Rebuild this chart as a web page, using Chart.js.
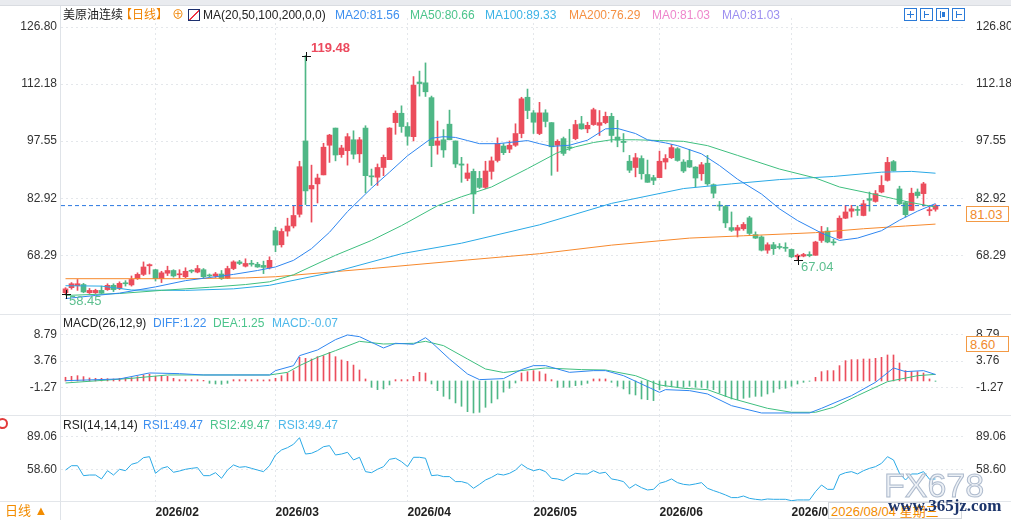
<!DOCTYPE html>
<html>
<head>
<meta charset="utf-8">
<script src="https://cdn.jsdelivr.net/npm/chart.js@4.4.1/dist/chart.umd.min.js"></script>
<style>
body{margin:0;background:#fff;}
#wrap{position:relative;width:1011px;height:520px;overflow:hidden;background:#fff;
  font-family:"Liberation Sans","Noto Sans CJK SC",sans-serif;font-size:12px;color:#222;}
.pane{position:absolute;left:0;}
.t{position:absolute;white-space:nowrap;line-height:14px;font-size:12px;}
.sep{position:absolute;left:0;width:1011px;height:1px;background:#e3e6ea;}
.cross{position:absolute;width:9px;height:9px;}
.cross:before{content:"";position:absolute;left:0;top:4px;width:9px;height:1px;background:#111;}
.cross:after{content:"";position:absolute;left:4px;top:0;width:1px;height:9px;background:#111;}
.box{position:absolute;left:966px;width:43px;height:16px;border:1px solid #f39a45;background:#fff;
  color:#f08a2a;font-size:13px;line-height:16px;padding-left:3px;box-sizing:border-box;}
.ico{position:absolute;top:8px;width:13px;height:13px;border:1px solid #2a7ad8;box-sizing:border-box;}
.ico i{position:absolute;background:#2a7ad8;}
</style>
</head>
<body>
<div id="wrap">
  <div style="position:absolute;left:0;top:0;width:1011px;height:5px;background:#e9ebef;border-bottom:1px solid #d9dce1"></div>

  <div class="pane" style="top:0;width:1011px;height:314px"><canvas id="cMain" width="1011" height="314"></canvas></div>
  <div class="pane" style="top:314px;width:1011px;height:101px"><canvas id="cMacd" width="1011" height="101"></canvas></div>
  <div class="pane" style="top:415px;width:1011px;height:105px"><canvas id="cRsi" width="1011" height="105"></canvas></div>

  <div class="sep" style="top:314px"></div>
  <div class="sep" style="top:415px"></div>
  <div class="sep" style="top:501px"></div>
  <div style="position:absolute;left:60px;top:6px;width:1px;height:514px;background:#dfe3e8"></div>

  <!-- main header -->
  <div class="t" style="left:63px;top:8px">美原油连续</div>
  <div class="t" style="left:120px;top:8px;color:#f08300">【日线】</div>
  <div class="t" style="left:172px;top:8px;color:#f08300">⊕</div>
  <div style="position:absolute;left:188px;top:9px;width:12px;height:12px;border:1px solid #1c2f6e;box-sizing:border-box;background:linear-gradient(135deg,#fff 45%,#e34 46%,#e34 55%,#fff 56%)"></div>
  <div class="t" style="left:203px;top:8px">MA(20,50,100,200,0,0)</div>
  <div class="t" style="left:335px;top:8px;color:#3d8fef">MA20:81.56</div>
  <div class="t" style="left:410px;top:8px;color:#4cc48c">MA50:80.66</div>
  <div class="t" style="left:485px;top:8px;color:#3db3e6">MA100:89.33</div>
  <div class="t" style="left:569px;top:8px;color:#f59042">MA200:76.29</div>
  <div class="t" style="left:652px;top:8px;color:#ee86cc">MA0:81.03</div>
  <div class="t" style="left:722px;top:8px;color:#9d8ff0">MA0:81.03</div>

  <div class="ico" style="left:904px"><i style="left:5px;top:2px;width:1px;height:7px"></i><i style="left:2px;top:5px;width:7px;height:1px"></i></div>
  <div class="ico" style="left:920px"><i style="left:3px;top:2px;width:1px;height:7px"></i><i style="left:3px;top:5px;width:5px;height:1px"></i></div>
  <div class="ico" style="left:936px"><i style="left:3px;top:2px;width:1px;height:7px"></i><i style="left:5px;top:3px;width:3px;height:5px"></i></div>
  <div class="ico" style="left:952px"><i style="left:3px;top:2px;width:1px;height:7px"></i><i style="left:4px;top:5px;width:5px;height:1px"></i></div>

  <!-- macd header -->
  <div class="t" style="left:63px;top:316px">MACD(26,12,9)</div>
  <div class="t" style="left:153px;top:316px;color:#3d8fef">DIFF:1.22</div>
  <div class="t" style="left:213px;top:316px;color:#4cc48c">DEA:1.25</div>
  <div class="t" style="left:272px;top:316px;color:#4db8ea">MACD:-0.07</div>

  <!-- rsi header -->
  <div class="t" style="left:63px;top:418px">RSI(14,14,14)</div>
  <div class="t" style="left:143px;top:418px;color:#3d8fef">RSI1:49.47</div>
  <div class="t" style="left:210px;top:418px;color:#4cc48c">RSI2:49.47</div>
  <div class="t" style="left:278px;top:418px;color:#4db8ea">RSI3:49.47</div>
  <div style="position:absolute;left:-3px;top:418px;width:7px;height:7px;border:2px solid #e23a3a;border-radius:50%"></div>

  <div class="t" style="left:5px;top:504px;font-size:13px;color:#f28c00">日线 ▲</div>

  <div id="priceBox" class="box">81.03</div>
  <div id="macdBox" class="box">8.60</div>

  <div class="t" style="left:828px;top:502px;width:134px;height:17px;border:1px solid #d3d7dc;background:#fff;color:#f28c00;font-size:13px;line-height:17px;padding-left:2px;box-sizing:border-box">2026/08/04 星期三</div>
  <div class="t" style="left:884px;top:467px;font-size:34px;line-height:36px;letter-spacing:0px;color:rgba(232,237,244,0.8);-webkit-text-stroke:1px rgba(150,166,190,0.75)">FX678</div>
  <div class="t" style="left:888px;top:497px;font-family:'Liberation Serif',serif;font-weight:bold;font-size:17px;line-height:18px;color:#1d356b">www.365jz.com</div>
</div>

<script>
// ---- price data (daily candles) ----
const openP = [
  58.7,60.0,60.5,60.8,58.7,58.7,59.3,59.5,60.6,59.8,
  61.2,60.7,62.3,63.4,65.6,64.6,62.3,63.7,64.4,63.3,
  62.8,64.4,64.0,64.6,63.2,63.0,63.5,62.4,64.9,66.6,
  65.5,66.1,66.0,65.7,65.1,74.6,71.0,74.5,75.8,78.8,
  97.6,85.3,86.6,88.9,96.5,100.9,94.1,95.1,97.9,94.3,
  100.9,88.6,88.3,90.8,92.8,102.3,104.7,101.3,98.7,112.7,
  112.5,108.7,96.5,97.9,101.9,97.6,91.7,88.0,89.8,88.0,
  85.7,89.8,92.6,96.3,95.5,96.5,99.5,108.8,104.8,99.5,
  104.8,102.3,96.5,98.2,96.0,98.2,102.0,100.7,101.8,101.6,
  102.3,103.9,98.6,97.5,92.4,90.8,93.1,89.0,88.2,88.2,
  92.2,93.3,95.6,92.2,92.6,90.9,89.2,91.9,86.4,81.0,
  80.8,75.4,74.7,75.1,77.9,73.6,73.0,69.6,71.0,70.5,
  70.2,69.8,67.9,68.1,68.5,68.3,72.1,74.5,71.6,72.7,
  77.8,79.6,79.9,78.5,82.8,82.1,84.5,87.5,92.3,85.3,
  81.8,79.8,84.5,84.1,79.7,80.1
];
const highP = [
  60.0,61.3,62.1,61.1,59.8,59.6,60.4,61.0,61.0,61.5,
  61.8,63.0,63.8,66.6,66.1,64.7,64.2,65.5,64.6,64.6,
  65.1,64.6,65.7,64.9,63.5,63.9,64.4,65.5,66.9,67.0,
  67.4,67.0,66.5,66.8,67.9,75.5,75.1,77.8,81.0,92.4,
  119.48,91.4,89.1,97.0,99.3,100.9,96.5,99.5,100.2,98.5,
  101.5,90.4,91.7,94.0,101.0,105.3,106.6,102.3,114.1,115.5,
  117.6,109.1,102.7,100.5,105.5,97.6,93.4,91.7,90.4,89.8,
  92.4,93.5,98.4,96.9,97.6,102.0,108.8,110.9,105.4,107.5,
  105.6,102.3,97.9,98.6,100.6,102.9,103.9,102.4,106.0,105.4,
  105.0,104.7,102.9,99.5,93.9,94.4,93.8,92.7,88.8,95.0,
  94.1,96.7,95.9,92.8,95.4,91.0,92.1,93.9,86.6,82.1,
  81.1,79.4,76.0,76.7,78.3,74.3,73.3,71.5,71.6,71.3,
  71.5,69.9,68.6,68.8,69.2,71.9,75.7,75.4,72.4,78.4,
  81.1,81.1,80.9,82.4,84.5,84.9,88.7,93.4,92.6,86.0,
  82.1,85.5,85.3,87.0,80.7,81.3
];
const lowP = [
  58.45,59.6,59.3,58.7,58.5,58.5,58.5,59.3,59.0,59.5,
  60.4,60.4,62.1,63.1,63.5,61.7,61.3,63.1,62.7,62.5,
  62.5,63.8,63.8,62.5,62.7,62.6,62.1,62.3,64.6,65.9,
  65.3,65.5,65.2,63.6,64.8,69.2,70.4,73.2,75.3,78.1,
  81.3,76.8,81.7,88.9,92.1,92.5,93.4,91.4,93.0,92.1,
  84.3,86.2,86.2,88.7,92.8,99.3,99.8,96.5,97.6,109.1,
  109.0,91.0,94.2,93.4,97.9,90.8,87.0,87.4,79.0,85.4,
  85.4,87.8,92.2,94.1,94.6,96.2,98.4,103.3,99.5,99.2,
  101.2,88.8,89.8,93.9,95.2,97.9,100.6,99.7,101.6,99.0,
  102.0,97.3,96.1,94.8,89.5,88.4,87.8,87.0,86.4,88.2,
  90.4,93.1,92.4,89.5,90.8,85.8,87.5,86.2,83.0,79.8,
  75.4,74.4,73.0,74.7,73.6,72.6,69.4,68.8,68.5,69.9,
  69.3,67.7,67.04,67.9,67.9,68.3,71.6,71.5,70.9,72.6,
  77.7,78.1,78.5,78.4,79.6,81.9,84.3,87.3,89.9,81.3,
  78.1,79.8,83.0,80.9,78.5,79.6
];
const closeP = [
  59.7,61.0,61.0,58.9,59.3,59.3,58.6,60.6,59.5,61.1,
  61.0,62.1,63.4,65.3,65.9,62.3,63.8,64.4,63.0,63.5,
  64.2,64.2,64.9,62.8,63.0,63.5,62.3,64.9,66.6,66.2,
  66.2,66.0,65.3,65.2,67.0,70.9,74.4,75.8,78.5,91.0,
  84.8,86.2,88.1,96.0,99.1,94.0,95.8,98.7,94.2,97.9,
  88.7,88.4,90.8,93.4,100.9,104.7,101.3,98.8,111.9,112.3,
  110.2,96.4,97.6,95.3,97.9,91.7,91.4,89.4,84.0,85.7,
  89.9,92.5,96.9,94.6,96.5,99.5,108.4,105.4,102.4,104.8,
  102.6,96.1,97.5,94.4,95.8,101.8,100.7,101.6,105.6,102.3,
  103.9,99.0,97.8,97.2,90.1,93.3,89.2,87.0,87.5,92.4,
  93.1,95.9,92.6,89.9,90.9,88.1,91.5,86.6,84.2,80.9,
  76.6,74.7,75.4,76.2,73.9,72.7,69.6,71.0,70.0,70.3,
  70.1,67.9,68.3,68.5,68.2,71.7,74.3,71.7,71.5,77.8,
  79.4,80.2,79.8,81.5,82.4,84.1,86.2,92.1,90.0,81.5,
  78.7,84.2,83.6,86.6,80.0,81.03
];
const lastPrice = 81.03;

// moving averages as drawn, read as [candle index, value]
const ma20 = [[0,57.2],[5,58.0],[9,58.6],[15,60.2],[20,61.8],[24,62.6],[28,63.4],[32,64.4],[35,65.3],[38,67.0],
  [41,70.0],[44,74.2],[47,79.5],[51,85.5],[54,89.6],[57,93.8],[61,98.3],[63,98.7],[65,98.5],[67,97.7],
  [69,96.9],[72,96.9],[74,97.2],[77,97.7],[79,96.9],[81,96.2],[84,96.5],[87,97.8],[90,100.7],[92,100.8],
  [95,99.5],[97,97.9],[100,97.1],[102,96.4],[106,94.3],[109,91.3],[112,87.8],[116,84.0],[119,80.2],[122,77.2],
  [126,74.0],[129,72.1],[132,72.7],[136,74.6],[139,77.3],[142,79.6],[145,81.56]];
const ma50 = [[0,58.0],[9,58.5],[16,59.3],[24,60.1],[30,60.8],[34,61.5],[38,63.3],[45,68.3],[51,72.1],[56,75.9],
  [62,81.0],[66,83.3],[71,85.8],[77,90.5],[82,94.6],[85,96.1],[88,97.2],[91,97.9],[95,97.9],[99,97.7],
  [103,97.5],[107,96.4],[112,93.9],[119,90.4],[125,88.1],[129,85.8],[134,84.2],[138,82.8],[141,81.8],[145,80.66]];
const ma100 = [[0,60.5],[6,60.4],[11,59.4],[20,59.3],[28,59.7],[34,60.6],[45,64.1],[56,68.7],[66,71.4],[79,76.1],
  [91,81.6],[103,85.4],[111,86.6],[119,87.7],[128,88.5],[136,89.6],[141,89.8],[145,89.33]];
const ma200 = [[0,62.3],[20,62.3],[30,62.5],[35,62.8],[51,64.9],[67,67.1],[79,68.7],[91,70.9],[104,72.7],[113,73.3],
  [125,74.1],[133,75.1],[140,75.8],[145,76.29]];

// MACD panel
const macdHist = [
  0.7,0.88,1.0,0.82,0.57,0.5,0.5,0.44,0.38,0.5,
  0.57,0.63,0.82,1.13,1.3,0.88,0.88,0.88,0.5,0.25,
  0.25,0.25,0.25,0.12,-0.44,-0.57,-0.63,-0.44,0.25,0.25,
  0.25,0.25,0.25,0.19,0.25,0.5,1.0,1.5,1.95,4.46,
  4.27,4.14,4.58,4.77,5.4,4.58,3.96,3.7,3.0,2.07,
  0.38,-1.19,-1.63,-1.5,-0.75,0.25,0.25,0.25,0.88,1.63,
  1.5,-0.57,-1.82,-2.89,-3.39,-4.14,-4.77,-5.78,-6.03,-5.9,
  -4.96,-4.14,-3.39,-2.1,-1.38,-0.38,1.5,1.76,1.95,1.76,
  1.32,0.25,-1.19,-1.19,-1.19,-0.88,-0.75,-0.44,0.38,0.38,
  0.38,-0.25,-1.0,-1.5,-2.45,-2.64,-3.39,-3.52,-3.7,-1.63,
  -1.0,-1.0,-1.19,-1.19,-1.0,-1.19,-1.19,-1.38,-1.63,-2.26,
  -2.89,-3.39,-3.52,-3.27,-3.08,-2.89,-2.89,-2.45,-2.14,-1.5,
  -1.38,-1.0,-0.57,-0.25,-0.06,0.69,1.76,1.95,1.95,2.89,
  3.83,4.02,4.02,4.14,4.14,4.27,4.46,4.9,4.9,3.39,
  1.95,1.76,1.76,1.5,0.38,-0.07
];
const diffPts = [[0,0.06],[9,0.38],[14,1.51],[19,1.38],[23,1.13],[28,1.13],[34,1.13],[35,1.95],[38,2.89],[39,4.77],
  [42,5.84],[45,7.79],[47,8.67],[49,8.35],[53,6.22],[55,7.10],[58,6.91],[60,8.16],[61,7.28],[64,4.14],
  [67,1.32],[69,0.25],[73,0.45],[76,2.14],[78,2.89],[80,2.89],[82,2.26],[84,1.63],[88,1.95],[90,1.95],
  [93,1.0],[96,-0.57],[99,-2.14],[100,-1.63],[104,-1.82],[107,-2.45],[111,-4.65],[116,-6.03],[124,-6.03],[126,-5.15],
  [131,-2.76],[135,-0.25],[138,2.45],[140,1.76],[143,1.95],[145,1.22]];
const deaPts = [[0,-0.38],[11,0.50],[17,1.13],[34,1.13],[37,1.63],[39,2.89],[42,4.46],[45,5.72],[49,7.47],[53,6.97],
  [58,7.10],[60,7.47],[63,6.66],[67,4.14],[70,2.26],[73,1.6],[80,2.45],[86,2.14],[90,2.07],[95,1.0],
  [99,-0.75],[103,-1.38],[107,-1.63],[111,-3.27],[117,-5.15],[121,-5.90],[125,-5.90],[128,-4.96],[132,-2.76],[137,-0.13],
  [142,1.0],[145,1.25]];
const macdMark = 8.60;

// RSI panel
const rsi1 = [
  57.9,62.0,62.0,52.6,53.2,53.2,49.5,57.3,53.2,58.6,
  57.3,63.3,64.9,69.6,70.5,54.8,59.5,61.1,55.8,57.0,
  58.6,59.5,60.2,52.6,52.6,55.4,50.1,57.9,62.7,60.5,
  61.1,59.5,57.9,56.4,62.0,72.1,76.8,79.0,82.2,88.4,
  73.0,73.7,76.2,79.9,80.9,72.1,73.0,74.6,67.4,69.9,
  56.4,55.4,58.6,61.1,68.0,69.0,65.8,61.1,69.9,69.9,
  69.0,52.6,53.2,51.7,51.7,47.0,47.0,45.4,40.7,44.4,
  48.5,51.0,54.2,53.2,54.8,57.9,63.3,59.5,57.3,58.6,
  56.4,50.1,49.5,47.9,51.7,54.8,54.2,54.2,57.3,54.8,
  55.8,49.5,48.5,47.0,40.7,44.4,41.3,39.1,39.7,45.4,
  47.0,49.5,46.0,44.4,43.8,44.8,46.0,40.7,38.5,36.6,
  34.4,31.9,31.9,33.4,31.2,30.3,29.7,30.6,30.3,30.3,
  30.3,29.0,29.7,29.7,29.7,37.5,43.8,39.7,39.7,53.2,
  55.4,56.4,54.2,57.3,59.5,61.1,64.2,70.5,67.4,54.8,
  48.5,54.2,54.2,56.4,49.2,49.47
];

// axes
const monthIdx = [15, 35, 57, 78, 99, 121];
const monthLabels = ['2026/02', '2026/03', '2026/04', '2026/05', '2026/06', '2026/07'];
const priceTicks = [126.80, 112.18, 97.55, 82.92, 68.29];
const macdTicks = [8.79, 3.76, -1.27];
const rsiTicks = [89.06, 58.60];

const FONT = '"Liberation Sans","Noto Sans CJK SC",sans-serif';
const RED = '#eb4d5c', GREEN = '#4fb786';
const C_MA20 = '#2f86f0', C_MA50 = '#3fbf7f', C_MA100 = '#2aa9e6', C_MA200 = '#f7892d';
const GRID = '#e4e7eb';
const X_MIN = -0.75, X_MAX = 149.5833;

const pts = a => a.map(p => ({x: p[0], y: p[1]}));
const upColor = i => closeP[i] > openP[i] ? RED : GREEN;

function xAxis(labels) {
  return {
    type: 'linear', min: X_MIN, max: X_MAX, offset: false,
    afterBuildTicks: s => { s.ticks = monthIdx.map(v => ({value: v})); },
    afterFit: s => { s.height = labels ? 19 : 0; s.paddingLeft = 0; s.paddingRight = 0; },
    grid: {color: GRID, drawTicks: false, offset: false},
    border: {display: false, dash: [2, 3]},
    ticks: {
      display: labels, align: 'start', padding: 4, maxRotation: 0, autoSkip: false,
      color: '#222', font: {family: FONT, size: 12, weight: 'bold'},
      callback: v => monthLabels[monthIdx.indexOf(v)] || ''
    }
  };
}

function yAxes(min, max, ticks) {
  const tk = {color: '#333', font: {family: FONT, size: 12}, callback: v => v.toFixed(2)};
  const build = s => { s.ticks = ticks.map(v => ({value: v})); };
  return {
    y: {
      position: 'left', min, max, afterBuildTicks: build,
      afterFit: s => { s.width = 61; s.paddingTop = 0; s.paddingBottom = 0; },
      ticks: Object.assign({padding: 4}, tk),
      grid: {color: GRID, drawTicks: false},
      border: {display: false, dash: [2, 3]}
    },
    y2: {
      position: 'right', min, max, afterBuildTicks: build,
      afterFit: s => { s.width = 48; s.paddingTop = 0; s.paddingBottom = 0; },
      ticks: Object.assign({padding: 5}, tk),
      grid: {display: false},
      border: {display: false}
    }
  };
}

function opts(scales, padTop) {
  return {
    responsive: false, animation: false, events: [],
    layout: {padding: {top: padTop, bottom: 0, left: 0, right: 0}},
    plugins: {legend: {display: false}, tooltip: {enabled: false}},
    datasets: {bar: {grouped: false}},
    scales: scales
  };
}

function maLine(data, color) {
  return {type: 'line', data: pts(data), borderColor: color, borderWidth: 1,
    pointRadius: 0, tension: 0, order: 0};
}

// main candle chart
const mainChart = new Chart(document.getElementById('cMain'), {
  type: 'bar',
  data: {
    datasets: [
      {data: highP.map((h, i) => ({x: i, y: [lowP[i], h]})),
        backgroundColor: c => upColor(c.dataIndex), barThickness: 1, order: 3},
      {data: openP.map((o, i) => ({x: i, y: [o, closeP[i]]})),
        backgroundColor: c => upColor(c.dataIndex), barThickness: 5, minBarLength: 1, order: 2},
      maLine(ma20, C_MA20),
      maLine(ma50, C_MA50),
      maLine(ma100, C_MA100),
      maLine(ma200, C_MA200),
      {type: 'line', data: [{x: X_MIN, y: lastPrice}, {x: X_MAX, y: lastPrice}],
        borderColor: '#2b78e0', borderWidth: 1, borderDash: [4, 3], pointRadius: 0, order: 0}
    ]
  },
  options: opts(Object.assign({x: xAxis(false)}, yAxes(53.25, 129.11, priceTicks)), 18)
});

// MACD chart
const macdChart = new Chart(document.getElementById('cMacd'), {
  type: 'bar',
  data: {
    datasets: [
      {data: macdHist.map((v, i) => ({x: i, y: v})),
        backgroundColor: c => macdHist[c.dataIndex] >= 0 ? RED : GREEN, barThickness: 1, order: 2},
      maLine(diffPts, C_MA20),
      maLine(deaPts, C_MA50)
    ]
  },
  options: opts(Object.assign({x: xAxis(false)}, yAxes(-6.41, 12.62, macdTicks)), 0)
});

// RSI chart
const rsiChart = new Chart(document.getElementById('cRsi'), {
  type: 'line',
  data: {
    datasets: [
      {data: rsi1.map((v, i) => ({x: i, y: v})), borderColor: C_MA100, borderWidth: 1,
        pointRadius: 0, tension: 0}
    ]
  },
  options: opts(Object.assign({x: xAxis(true)}, yAxes(28.7, 109.8, rsiTicks)), 0)
});

// labels placed from the chart scales
const wrap = document.getElementById('wrap');
const xs = mainChart.scales.x, ys = mainChart.scales.y;

function mark(i, v, text, color, bold, above) {
  const px = Math.round(xs.getPixelForValue(i)), py = Math.round(ys.getPixelForValue(v));
  const c = document.createElement('div');
  c.className = 'cross';
  c.style.left = (px - 4) + 'px';
  c.style.top = (py - 4) + 'px';
  wrap.appendChild(c);
  const t = document.createElement('div');
  t.className = 't';
  t.textContent = text;
  t.style.color = color;
  t.style.fontSize = '13px';
  t.style.fontWeight = bold ? 'bold' : 'normal';
  t.style.left = (px + (above ? 5 : 3)) + 'px';
  t.style.top = (py + (above ? -15 : 0)) + 'px';
  wrap.appendChild(t);
}

const hiVal = Math.max(...highP);
const hiI = highP.indexOf(hiVal);
const loVal = Math.min(...lowP);
const loI = lowP.indexOf(loVal);
const tail = lowP.slice(100);
const lo2Val = Math.min(...tail);
const lo2I = 100 + tail.indexOf(lo2Val);

mark(hiI, hiVal, hiVal.toFixed(2), '#ec4a5e', true, true);
mark(loI, loVal, loVal.toFixed(2), '#5dbf8f', false, false);
mark(lo2I, lo2Val, lo2Val.toFixed(2), '#5dbf8f', false, false);

document.getElementById('priceBox').style.top = Math.round(ys.getPixelForValue(lastPrice)) + 'px';
document.getElementById('macdBox').style.top = (314 + Math.round(macdChart.scales.y.getPixelForValue(macdMark)) + 1) + 'px';
</script>
</body>
</html>
